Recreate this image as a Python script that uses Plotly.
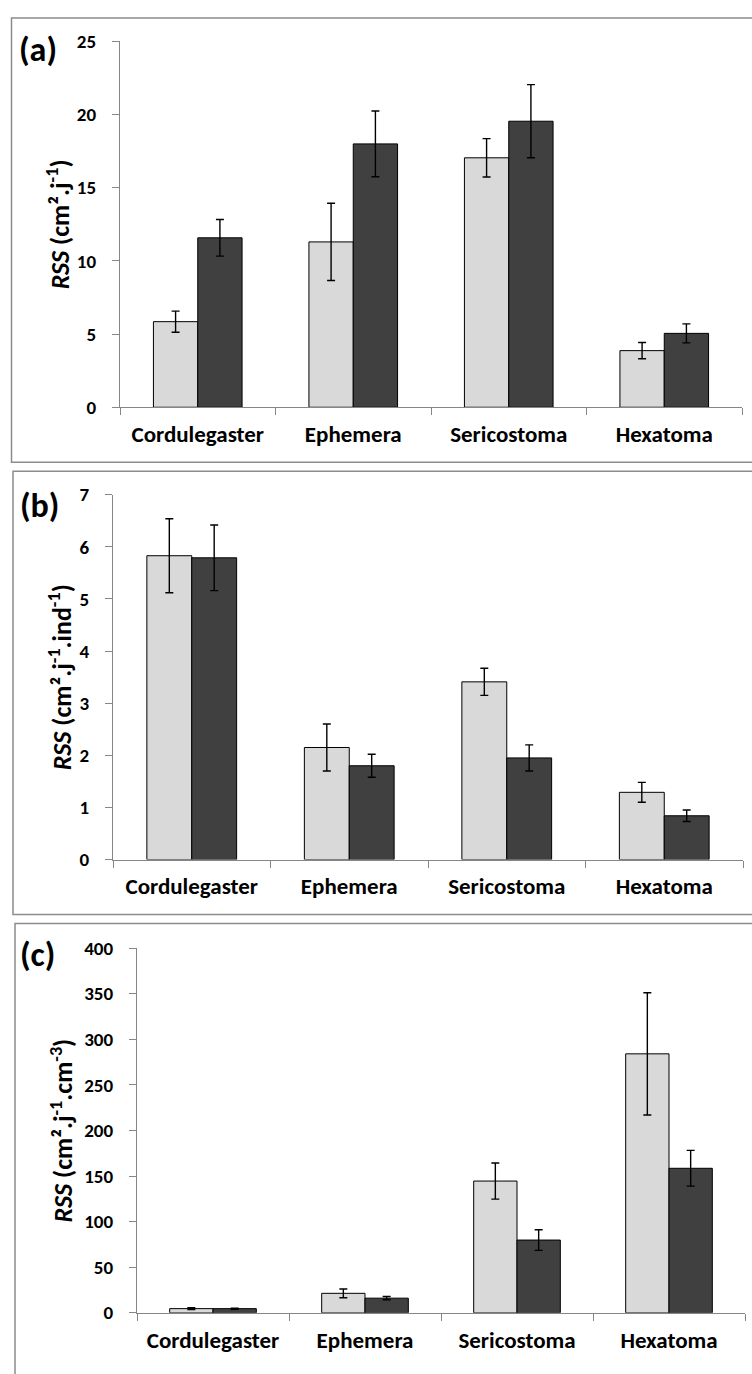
import plotly.graph_objects as go

# ---- data ---------------------------------------------------------------
taxa = ["Cordulegaster", "Ephemera", "Sericostoma", "Hexatoma"]

# (a) RSS per day
area_light = [5.85, 11.3, 17.05, 3.87]
area_light_err = [0.72, 2.64, 1.31, 0.56]
area_dark = [11.58, 18.0, 19.55, 5.05]
area_dark_err = [1.25, 2.25, 2.5, 0.65]

# (b) RSS per day per individual
ind_light = [5.83, 2.15, 3.41, 1.29]
ind_light_err = [0.71, 0.45, 0.26, 0.19]
ind_dark = [5.79, 1.80, 1.95, 0.84]
ind_dark_err = [0.63, 0.22, 0.25, 0.11]

# (c) RSS per day per body volume
vol_light = [4.6, 21.4, 144.5, 284.0]
vol_light_err = [1.0, 4.8, 19.8, 67.0]
vol_dark = [4.6, 16.1, 79.8, 158.5]
vol_dark_err = [0.6, 1.8, 11.3, 19.6]

y_titles = [
    "<i>RSS</i> (cm².j<sup>-1</sup>)",
    "<i>RSS</i> (cm².j<sup>-1</sup>.ind<sup>-1</sup>)",
    "<i>RSS</i> (cm².j<sup>-1</sup>.cm<sup>-3</sup>)",
]
panel_tags = ["(a)", "(b)", "(c)"]
y_ranges = [(0, 25, 5), (0, 7, 1), (0, 400, 50)]

# ---- page geometry (pixels) --------------------------------------------
W, H = 752, 1374
FONT = "Carlito, Lato, sans-serif"
LIGHT, DARK = "#D9D9D9", "#404040"
AXIS_GREY = "#868686"

# plot boxes: x_left, x_right, y_top, y_bottom
boxes = [(120, 742, 31, 403), (113, 743, 492, 863), (137, 745, 953, 1324)]
frames = [(11.5, 770, 7, 459), (13, 770, 468, 919), (15, 770, 928, 1400)]
tag_pos = [(38, 39), (39, 503), (37, 960)]
ytitle_x = [58, 60, 62]


def px_x(v):
    return v / W


def px_y(v):
    return 1 - v / H


series = [
    (area_light, area_light_err, area_dark, area_dark_err),
    (ind_light, ind_light_err, ind_dark, ind_dark_err),
    (vol_light, vol_light_err, vol_dark, vol_dark_err),
]

fig = go.Figure()
layout = dict(
    width=W, height=H,
    margin=dict(l=0, r=0, t=0, b=0),
    paper_bgcolor="white", plot_bgcolor="white",
    barmode="group", bargap=0.43, bargroupgap=0,
    showlegend=False,
    font=dict(family=FONT, color="black"),
)
shapes, annotations = [], []

for i, (lv, le, dv, de) in enumerate(series):
    n = "" if i == 0 else str(i + 1)
    xa, ya = "x" + n, "y" + n
    for vals, errs, col in ((lv, le, LIGHT), (dv, de, DARK)):
        fig.add_trace(go.Bar(
            x=taxa, y=vals, xaxis=xa, yaxis=ya,
            marker=dict(color=col, line=dict(color="black", width=1)),
            error_y=dict(type="data", array=errs, color="black",
                         thickness=1.4, width=4),
            offsetgroup=col,
        ))

    xl, xr, yt, yb = boxes[i]
    lo, hi, step = y_ranges[i]
    layout["xaxis" + n] = dict(
        domain=[px_x(xl), px_x(xr)], anchor=ya, type="category",
        range=[-0.5, 3.5], tickson="boundaries", ticks="outside",
        ticklen=7, tickcolor=AXIS_GREY, tickwidth=1.2,
        showline=True, linecolor=AXIS_GREY, linewidth=1.3,
        showgrid=False, zeroline=False, ticklabelstandoff=6,
        tickfont=dict(family=FONT, size=23, weight="bold", color="black"),
    )
    layout["yaxis" + n] = dict(
        domain=[px_y(yb), px_y(yt)], anchor=xa,
        range=[lo, hi], dtick=step, tick0=0,
        ticks="outside", ticklen=7, tickcolor=AXIS_GREY, tickwidth=1.2,
        showline=True, linecolor=AXIS_GREY, linewidth=1.3,
        showgrid=False, zeroline=False, ticklabelstandoff=12,
        tickfont=dict(family=FONT, size=19, weight="bold", color="black"),
    )

    fx0, fx1, fy0, fy1 = frames[i]
    shapes.append(dict(
        type="rect", xref="paper", yref="paper",
        x0=px_x(fx0), x1=px_x(fx1), y0=px_y(fy1), y1=px_y(fy0),
        line=dict(color="#8C8C8C", width=1.5), fillcolor="rgba(0,0,0,0)",
        layer="below",
    ))

    tx, ty = tag_pos[i]
    annotations.append(dict(
        text=panel_tags[i], xref="paper", yref="paper",
        x=px_x(tx), y=px_y(ty), xanchor="center", yanchor="middle",
        showarrow=False,
        font=dict(family=FONT, size=34, weight="bold", color="black"),
    ))
    annotations.append(dict(
        text=y_titles[i], xref="paper", yref="paper",
        x=px_x(ytitle_x[i]), y=px_y((yt + yb) / 2),
        xanchor="center", yanchor="middle", textangle=-90,
        showarrow=False,
        font=dict(family=FONT, size=26, weight="bold", color="black"),
    ))

layout["shapes"] = shapes
layout["annotations"] = annotations
fig.update_layout(**layout)
fig.write_html("out.html")
